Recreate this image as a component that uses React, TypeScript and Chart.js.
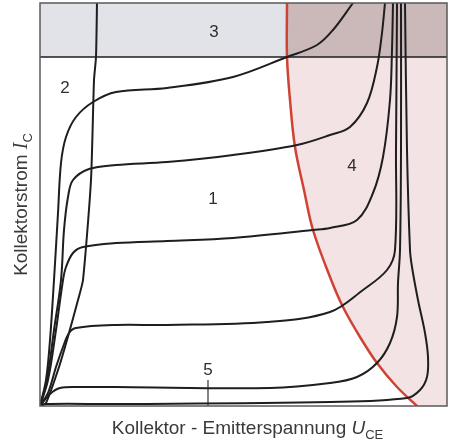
import React, { useEffect, useRef } from 'react';
import { Chart, registerables } from 'chart.js';
Chart.register(...registerables);

// Arbitrary units: U_CE 0..407, I_C 0..403
const X_MAX = 407;
const Y_MAX = 403;

// Output characteristics (I_B as parameter), top to bottom
const curveAX = [0, 6, 10, 14, 18, 21, 26, 36, 53, 76, 127, 193, 247, 277, 293, 313];
const curveAY = [0, 26, 66, 126, 193, 243, 269, 289, 304, 314, 318, 329, 349, 361, 376, 403];
const curveBX = [0, 7, 14, 21, 24, 28, 33, 49, 76, 127, 193, 257, 290, 310, 327, 337, 342, 345];
const curveBY = [0, 26, 76, 126, 176, 209, 226, 237, 241, 244, 251, 261, 271, 279, 303, 339, 373, 403];
const curveCX = [0, 8, 16, 23, 26, 33, 43, 76, 127, 193, 273, 290, 317, 333, 343, 350, 352, 353];
const curveCY = [0, 26, 76, 126, 139, 153, 159, 163, 165, 168, 176, 178, 186, 213, 249, 306, 356, 403];
const curveDX = [0, 8, 16, 23, 29, 36, 76, 127, 227, 290, 323, 347, 355, 356, 357];
const curveDY = [0, 13, 39, 59, 73, 78, 81, 81, 84, 94, 116, 136, 156, 256, 403];
const curveEX = [0, 10, 20, 40, 76, 230, 290, 317, 337, 350, 357, 358, 360, 361, 361];
const curveEY = [0, 12, 18, 19, 19, 18, 23, 29, 43, 63, 89, 123, 156, 256, 403];
const curveFX = [0, 6, 76, 290, 367, 380, 387, 388, 385, 378, 372, 370, 367, 365];
const curveFY = [0, 2, 2, 4, 8, 16, 29, 49, 73, 106, 139, 156, 256, 403];

// Saturation boundary (region 2)
const satX = [0, 6, 19, 29, 38, 43, 51, 54, 56, 57];
const satY = [0, 3, 39, 73, 106, 126, 226, 326, 349, 403];

// Max collector current I_Cmax (region 3)
const icMax = 349;

// Power hyperbola P_tot (region 4)
const hypX = [247, 247, 250, 255, 264, 273, 290, 303, 320, 337, 357, 377];
const hypY = [403, 349, 306, 259, 216, 176, 129, 99, 69, 43, 19, 0];

// Region labels
const regionLabels = ['1', '2', '3', '4', '5'];
const labelX = [173, 25, 174, 312, 168];
const labelY = [207, 318, 374, 240, 36];
// marker of region 5 (cut-off)
const markX = [168, 168];
const markY = [0, 26];

const pts = (xs: number[], ys: number[]) => xs.map((x, i) => ({ x, y: ys[i] }));

const FONT = '"Liberation Sans", Arial, sans-serif';

const decoPlugin = {
  id: 'deco',
  afterDatasetsDraw(chart: any) {
    const { ctx, chartArea, scales } = chart;
    const { left, top, right, bottom } = chartArea;
    const xs = scales.x;
    const ys = scales.y;
    ctx.save();
    ctx.strokeStyle = '#5a5a5a';
    ctx.lineWidth = 1.5;
    ctx.strokeRect(left, top, right - left, bottom - top);

    ctx.fillStyle = '#2e2e2e';
    ctx.font = '17px ' + FONT;
    ctx.textAlign = 'center';
    ctx.textBaseline = 'middle';
    regionLabels.forEach((t, i) => {
      ctx.fillText(t, xs.getPixelForValue(labelX[i]), ys.getPixelForValue(labelY[i]));
    });

    const drawParts = (parts: { t: string; f: string; dy: number }[], cx: number, cy: number) => {
      let total = 0;
      parts.forEach((p) => {
        ctx.font = p.f;
        total += ctx.measureText(p.t).width;
      });
      let x = cx - total / 2;
      ctx.textAlign = 'left';
      ctx.textBaseline = 'alphabetic';
      parts.forEach((p) => {
        ctx.font = p.f;
        ctx.fillText(p.t, x, cy + p.dy);
        x += ctx.measureText(p.t).width;
      });
    };

    ctx.fillStyle = '#3a3a3a';
    drawParts(
      [
        { t: 'Kollektor - Emitterspannung ', f: '19px ' + FONT, dy: 0 },
        { t: 'U', f: 'italic 19px ' + FONT, dy: 0 },
        { t: 'CE', f: '13px ' + FONT, dy: 5 },
      ],
      (left + right) / 2 + 4,
      bottom + 28
    );

    ctx.translate(left - 13, (top + bottom) / 2);
    ctx.rotate(-Math.PI / 2);
    drawParts(
      [
        { t: 'Kollektorstrom ', f: '19px ' + FONT, dy: 0 },
        { t: 'I', f: 'italic 20px "Liberation Serif", serif', dy: 0 },
        { t: 'C', f: '13px ' + FONT, dy: 5 },
      ],
      0,
      0
    );
    ctx.restore();
  },
};

export default function App() {
  const ref = useRef<HTMLCanvasElement>(null);
  useEffect(() => {
    if (!ref.current) return;
    const black = '#1e1e1e';
    const curve = (xs: number[], ys: number[]) => ({
      data: pts(xs, ys),
      borderColor: black,
      borderWidth: 2,
      pointRadius: 0,
      tension: 0.35,
      fill: false,
    });
    const chart = new Chart(ref.current, {
      type: 'line',
      data: {
        datasets: [
          curve(curveAX, curveAY),
          curve(curveBX, curveBY),
          curve(curveCX, curveCY),
          curve(curveDX, curveDY),
          curve(curveEX, curveEY),
          curve(curveFX, curveFY),
          { ...curve(satX, satY), tension: 0.2 },
          {
            data: pts([0, X_MAX], [icMax, icMax]),
            borderColor: black,
            borderWidth: 1.6,
            pointRadius: 0,
            fill: false,
          },
          {
            data: pts(markX, markY),
            borderColor: '#333',
            borderWidth: 1.2,
            pointRadius: 0,
            fill: false,
          },
          {
            data: pts(hypX, hypY),
            borderColor: '#cf4335',
            borderWidth: 2.5,
            pointRadius: 0,
            tension: 0.35,
            fill: false,
          },
          {
            data: pts([0, hypX[0]], [icMax, icMax]),
            borderWidth: 0,
            pointRadius: 0,
            backgroundColor: '#e2e3e9',
            fill: 'end',
          },
          {
            data: pts([hypX[0], X_MAX], [icMax, icMax]),
            borderWidth: 0,
            pointRadius: 0,
            backgroundColor: '#cbb9ba',
            fill: 'end',
          },
          {
            data: pts([...hypX, X_MAX], [...hypY, 0]),
            borderWidth: 0,
            pointRadius: 0,
            tension: 0.35,
            backgroundColor: '#f3e3e4',
            fill: 'end',
          },
        ],
      },
      options: {
        responsive: false,
        animation: false,
        layout: { padding: { left: 40, top: 3, right: 4, bottom: 37 } },
        plugins: { legend: { display: false }, tooltip: { enabled: false } },
        scales: {
          x: { type: 'linear', min: 0, max: X_MAX, display: false },
          y: { type: 'linear', min: 0, max: Y_MAX, display: false },
        },
      },
      plugins: [decoPlugin],
    } as any);
    return () => chart.destroy();
  }, []);
  return (
    <div style={{ position: 'fixed', left: 0, top: 0, width: 451, height: 443, background: '#fff' }}>
      <canvas ref={ref} width={451} height={443} />
    </div>
  );
}
